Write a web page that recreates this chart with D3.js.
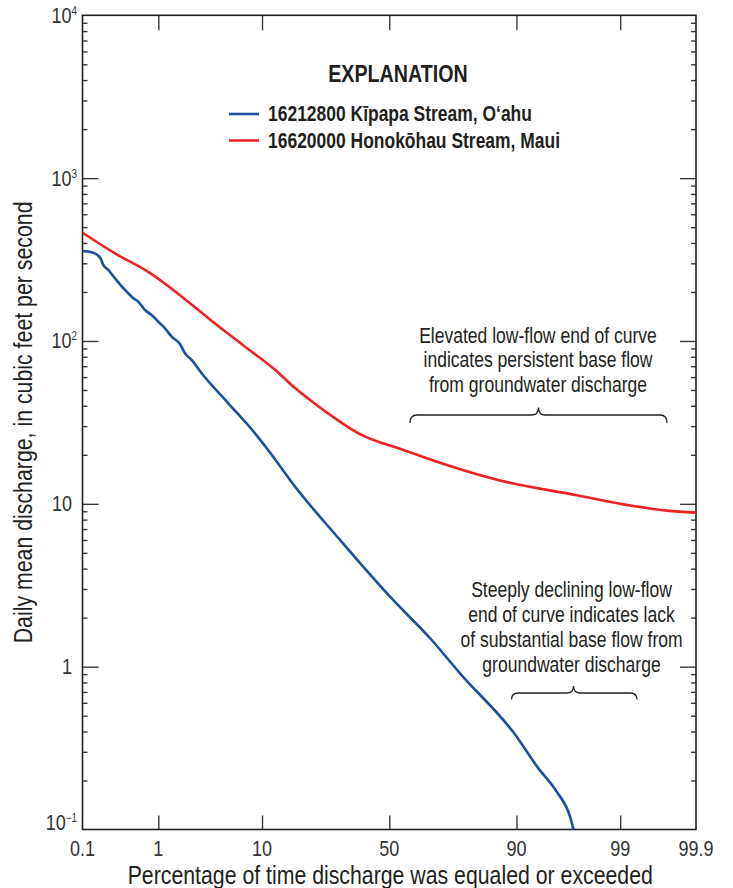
<!DOCTYPE html>
<html>
<head>
<meta charset="utf-8">
<script src="https://cdn.jsdelivr.net/npm/d3@7"></script>
<style>
body{margin:0;background:#fff}
text{font-family:"Liberation Sans Narrow","Arial Narrow","Liberation Sans",sans-serif;fill:#231f20}
</style>
</head>
<body>
<script>
// percent of time equaled or exceeded / daily mean discharge (ft3/s)
var kipapaPct = [0.1, 0.136, 0.1785, 0.1985, 0.2326, 0.2866, 0.3886, 0.4965, 0.574, 0.694, 0.836, 1.0, 1.194, 1.42, 1.75, 1.98, 2.33, 2.94, 5.25, 8.81, 12.49, 15.87, 30.99, 50.3, 66.55, 76.2, 90.04, 93.13, 95.42, 96.57, 96.83];
var kipapaQ = [357, 350.5, 326.5, 292.8, 272.9, 242.6, 205.7, 182.9, 174.3, 155, 144.4, 131.3, 119.7, 106.2, 95.8, 84.0, 76.4, 63.3, 41.4, 27.1, 18.8, 14.0, 6.0, 2.69, 1.458, 0.91, 0.3714, 0.245, 0.1707, 0.12, 0.1];
var honoPct = [0.1, 0.286, 0.8, 1.68, 3.42, 7.31, 12.49, 16.68, 25.34, 38.4, 55.65, 71.87, 86.78, 97.05, 99.302, 99.741, 99.9];
var honoQ = [462, 345, 261, 194.5, 138, 92.2, 66.5, 52.5, 37.7, 26.8, 21.4, 17.3, 13.9, 11.3, 9.7, 9.08, 8.83];

var xTicks = [0.1, 1, 10, 50, 90, 99, 99.9];
var xTickLabels = ["0.1", "1", "10", "50", "90", "99", "99.9"];
var yTicks = [0.1, 1, 10, 100, 1000, 10000];
var yTickBase = ["10", "1", "10", "10", "10", "10"];
var yTickExp = ["\u22121", "", "", "2", "3", "4"];

var legendNames = ["16212800 K\u012bpapa Stream, O\u2018ahu", "16620000 Honok\u014dhau Stream, Maui"];
var lineColors = ["#1d4f9e", "#ec2227"];

var noteHigh = ["Elevated low-flow end of curve", "indicates persistent base flow", "from groundwater discharge"];
var noteLow = ["Steeply declining low-flow", "end of curve indicates lack", "of substantial base flow from", "groundwater discharge"];

// inverse normal cdf (Acklam), used for the probability axis
function probit(p){
	var a = [-3.969683028665376e+01, 2.209460984245205e+02, -2.759285104469687e+02, 1.383577518672690e+02, -3.066479806614716e+01, 2.506628277459239e+00];
	var b = [-5.447609879822406e+01, 1.615858368580409e+02, -1.556989798598866e+02, 6.680131188771972e+01, -1.328068155288572e+01];
	var c = [-7.784894002430293e-03, -3.223964580411365e-01, -2.400758277161838e+00, -2.549732539343734e+00, 4.374664141464968e+00, 2.938163982698783e+00];
	var d = [7.784695709041462e-03, 3.224671290700398e-01, 2.445134137142996e+00, 3.754408661907416e+00];
	var q, r;
	if(p < 0.02425){
		q = Math.sqrt(-2 * Math.log(p));
		return (((((c[0]*q+c[1])*q+c[2])*q+c[3])*q+c[4])*q+c[5]) / ((((d[0]*q+d[1])*q+d[2])*q+d[3])*q+1);
	}
	if(p > 1 - 0.02425){
		q = Math.sqrt(-2 * Math.log(1 - p));
		return -(((((c[0]*q+c[1])*q+c[2])*q+c[3])*q+c[4])*q+c[5]) / ((((d[0]*q+d[1])*q+d[2])*q+d[3])*q+1);
	}
	q = p - 0.5; r = q * q;
	return (((((a[0]*r+a[1])*r+a[2])*r+a[3])*r+a[4])*r+a[5])*q / (((((b[0]*r+b[1])*r+b[2])*r+b[3])*r+b[4])*r+1);
}

var W = 733, H = 888;
var pL = 82.5, pR = 696, pT = 15.3, pB = 829.5;
var NARROW = 0.82; // no narrow face installed, squeeze the regular one

var zScale = d3.scaleLinear().domain([probit(0.001), probit(0.999)]).range([pL, pR]);
var x = function(pct){ return zScale(probit(pct / 100)); };
var y = d3.scaleLog().domain([0.1, 10000]).range([pB, pT]);

var svg = d3.select("body").append("svg").attr("width", W).attr("height", H);

// place a text at (tx,ty) squeezed horizontally
function put(sel, tx, ty, rot, sx){
	sel.attr("transform", function(d, i){
		var a = typeof tx === "function" ? tx(d, i) : tx;
		var b = typeof ty === "function" ? ty(d, i) : ty;
		return "translate(" + a + "," + b + ")" + (rot ? " rotate(" + rot + ")" : "") + " scale(" + (sx || NARROW) + ",1)";
	});
	return sel;
}

// minor ticks 2..9 in every decade
var minors = [];
yTicks.slice(0, -1).forEach(function(dec){
	for(var k = 2; k <= 9; k++) minors.push(dec * k);
});

function styleAxis(g){
	g.select(".domain").remove();
	g.selectAll(".tick line").attr("stroke", "#3a3a3a").attr("stroke-width", 1.4);
}

var xInner = xTicks.slice(1, -1).map(function(p){ return probit(p / 100); });

svg.append("g").attr("transform", "translate(0," + pB + ")")
	.call(d3.axisBottom(zScale).tickValues(xInner).tickSize(-14).tickFormat(""))
	.call(styleAxis);
svg.append("g").attr("transform", "translate(0," + pT + ")")
	.call(d3.axisTop(zScale).tickValues(xInner).tickSize(-15).tickFormat(""))
	.call(styleAxis);

svg.append("g").attr("transform", "translate(" + pL + ",0)")
	.call(d3.axisLeft(y).tickValues(yTicks.slice(1, -1)).tickSize(-16).tickFormat(""))
	.call(styleAxis);
svg.append("g").attr("transform", "translate(" + pL + ",0)")
	.call(d3.axisLeft(y).tickValues(minors).tickSize(-5).tickFormat(""))
	.call(styleAxis);
svg.append("g").attr("transform", "translate(" + pR + ",0)")
	.call(d3.axisRight(y).tickValues(yTicks.slice(1, -1)).tickSize(-16).tickFormat(""))
	.call(styleAxis);
svg.append("g").attr("transform", "translate(" + pR + ",0)")
	.call(d3.axisRight(y).tickValues(minors).tickSize(-5).tickFormat(""))
	.call(styleAxis);

// frame
svg.append("rect").attr("x", pL).attr("y", pT)
	.attr("width", pR - pL).attr("height", pB - pT)
	.attr("fill", "none").attr("stroke", "#231f20").attr("stroke-width", 1.6);

// x tick labels
put(svg.append("g").selectAll("text").data(xTicks).enter().append("text"),
		function(d){ return x(d); }, 855.5)
	.attr("text-anchor", "middle")
	.attr("font-size", 22)
	.style("fill", "#333")
	.text(function(d, i){ return xTickLabels[i]; });

// y tick labels with superscripts
var yl = put(svg.append("g").selectAll("text").data(yTicks).enter().append("text"),
		function(d, i){ return yTickExp[i] ? 77 : 72; },
		function(d, i){ return i === 0 ? pB : y(d) + 7.5; })
	.attr("text-anchor", "end")
	.attr("font-size", 22)
	.style("fill", "#333");
yl.append("tspan").text(function(d, i){ return yTickBase[i]; });
yl.append("tspan")
	.attr("font-size", 12)
	.attr("dy", -8)
	.text(function(d, i){ return yTickExp[i]; });

// axis titles
put(svg.append("text"), (pL + pR) / 2 + 1, 883.5, 0, 0.845)
	.attr("text-anchor", "middle").attr("font-size", 25.2)
	.text("Percentage of time discharge was equaled or exceeded");
put(svg.append("text"), 32, (pT + pB) / 2, -90)
	.attr("text-anchor", "middle").attr("font-size", 26)
	.text("Daily mean discharge, in cubic feet per second");

// flow duration curves
var line = d3.line()
	.x(function(d){ return x(d[0]); })
	.y(function(d){ return y(d[1]); })
	.curve(d3.curveMonotoneX);

var series = [d3.zip(kipapaPct, kipapaQ), d3.zip(honoPct, honoQ)];
svg.append("g").selectAll("path").data(series).enter().append("path")
	.attr("d", line)
	.attr("fill", "none")
	.attr("stroke", function(d, i){ return lineColors[i]; })
	.attr("stroke-width", 2.6)
	.attr("stroke-linejoin", "round");

// explanation
put(svg.append("text"), 398, 81.5)
	.attr("text-anchor", "middle").attr("font-size", 24).attr("font-weight", "bold")
	.text("EXPLANATION");
var leg = svg.append("g").selectAll("g").data(legendNames).enter().append("g")
	.attr("transform", function(d, i){ return "translate(0," + (114 + i * 26.5) + ")"; });
leg.append("line").attr("x1", 229).attr("x2", 259)
	.attr("stroke", function(d, i){ return lineColors[i]; }).attr("stroke-width", 2.6);
put(leg.append("text"), 268, 7)
	.attr("font-size", 21.3).attr("font-weight", "bold")
	.text(function(d){ return d; });

// notes with braces
function brace(x1, x2, xm, yEnd, yBar, yTip){
	var r = 7, p = d3.path();
	p.moveTo(x1, yEnd);
	p.quadraticCurveTo(x1, yBar, x1 + r, yBar);
	p.lineTo(xm - r, yBar);
	p.quadraticCurveTo(xm, yBar, xm, yTip);
	p.quadraticCurveTo(xm, yBar, xm + r, yBar);
	p.lineTo(x2 - r, yBar);
	p.quadraticCurveTo(x2, yBar, x2, yEnd);
	return p.toString();
}

put(svg.append("g").selectAll("text").data(noteHigh).enter().append("text"),
		538, function(d, i){ return 342.5 + i * 24.6; })
	.attr("text-anchor", "middle").attr("font-size", 21.4)
	.text(function(d){ return d; });
svg.append("path").attr("d", brace(410, 667, 538.5, 423, 415, 407.5))
	.attr("fill", "none").attr("stroke", "#231f20").attr("stroke-width", 1.3);

put(svg.append("g").selectAll("text").data(noteLow).enter().append("text"),
		571.5, function(d, i){ return 596.5 + i * 25.2; })
	.attr("text-anchor", "middle").attr("font-size", 21.4)
	.text(function(d){ return d; });
svg.append("path").attr("d", brace(511.5, 637, 573.5, 699.5, 693, 686))
	.attr("fill", "none").attr("stroke", "#231f20").attr("stroke-width", 1.3);
</script>
</body>
</html>
